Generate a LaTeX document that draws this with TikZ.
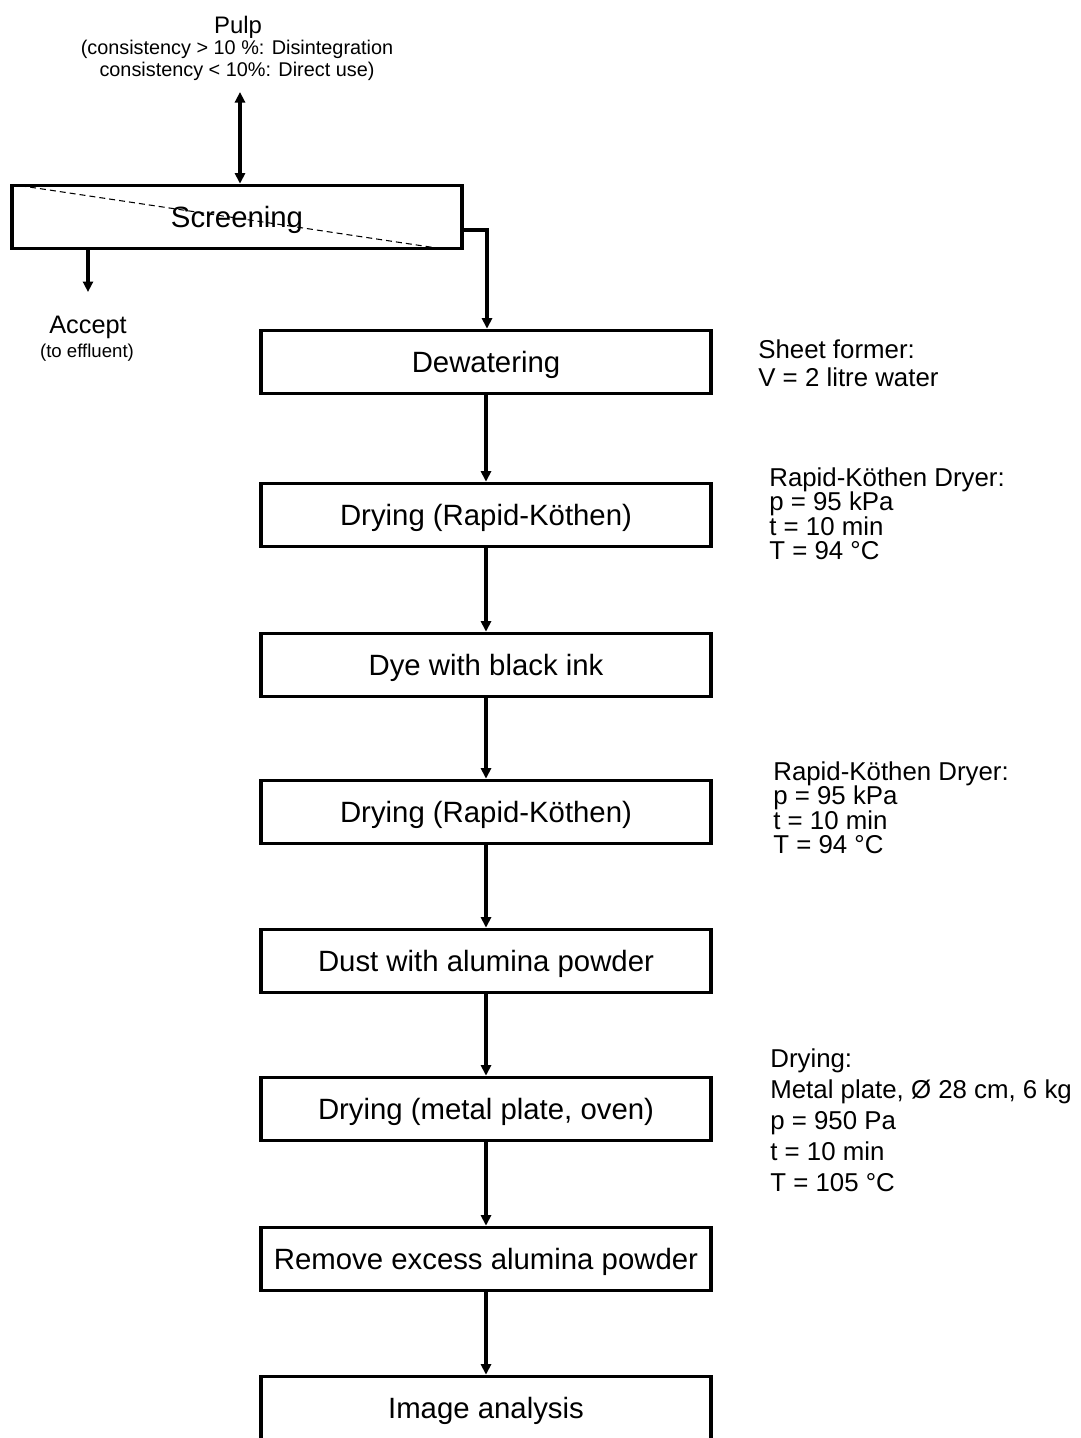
\documentclass[tikz,border=0pt]{standalone}
\usepackage{fontspec}
\setmainfont{Liberation Sans}
\usetikzlibrary{positioning,calc,arrows.meta}
\tikzset{>={Triangle[length=0.21cm,width=0.2cm]}}

\begin{document}
\begin{tikzpicture}[x=0.02cm,y=-0.02cm,
  box/.style={draw,line width=2.1pt,minimum width=9cm,minimum height=1.26cm,inner sep=0pt,text height=13.4pt,text depth=1.4pt,font=\fontsize{16.7}{20}\selectfont},
  note/.style={anchor=north west,inner sep=0pt,align=left},
  lbl/.style={inner sep=0pt,anchor=base},
  arr/.style={->,line width=1.8pt}]
\useasboundingbox (0,0) rectangle (1080,1438);
\node[box] (scr) at (237,217) {Screening};
\node[box] (dew) at (486,362) {Dewatering};
\node[box] (dry1) at (486,515) {Drying (Rapid-Köthen)};
\node[box] (dye) at (486,665) {Dye with black ink};
\node[box] (dry2) at (486,812) {Drying (Rapid-Köthen)};
\node[box] (dust) at (486,961) {Dust with alumina powder};
\node[box] (dry3) at (486,1109) {Drying (metal plate, oven)};
\node[box] (rem) at (486,1259) {Remove excess alumina powder};
\node[box] (img) at (486,1408) {Image analysis};
\node[lbl,font=\fontsize{13.6}{16}\selectfont] (pulp) at (238,33) {Pulp};
\node[lbl,anchor=north,align=center,font=\fontsize{11.3}{12.5}\selectfont] (cons) at (237,40) {(consistency > 10 \%: Disintegration\\consistency < 10\%: Direct use)};
\node[lbl,font=\fontsize{14.4}{17}\selectfont] (acc) at (88,333) {Accept};
\node[lbl,font=\fontsize{10.6}{12}\selectfont] (eff) at (87,357) {(to effluent)};
\node[note,font=\fontsize{14.7}{16.4}\selectfont] (sf) at (758,339) {Sheet former:\\V = 2 litre water};
\node[note,font=\fontsize{14.7}{14}\selectfont] (rk1) at (769,467) {Rapid-Köthen Dryer:\\p = 95 kPa\\t = 10 min\\T = 94 °C};
\node[note,font=\fontsize{14.7}{14}\selectfont] (rk2) at (773,761) {Rapid-Köthen Dryer:\\p = 95 kPa\\t = 10 min\\T = 94 °C};
\node[note,font=\fontsize{14.7}{17.7}\selectfont] (dr) at (770,1048) {Drying:\\Metal plate, Ø 28 cm, 6 kg\\p = 950 Pa\\t = 10 min\\T = 105 °C};
\coordinate (p) at (240,92);
\coordinate (a) at (88,292);
\coordinate (r) at (487,230);
\draw[<->,line width=1.8pt] (p) -- (p |- scr.north);
\draw[arr] (scr.south -| a) -- (a);
\draw[arr] (r -| scr.east) -- (r) -- (r |- dew.north);
\draw[dashed,line width=0.6pt,dash pattern=on 0.12cm off 0.08cm] ($(scr.north west)+(10,2)$) -- ($(scr.south east)+(-18,-1)$);
\foreach \a/\b in {dew/dry1,dry1/dye,dye/dry2,dry2/dust,dust/dry3,dry3/rem,rem/img}
  \draw[arr] (\a) -- (\b);
\end{tikzpicture}
\end{document}
